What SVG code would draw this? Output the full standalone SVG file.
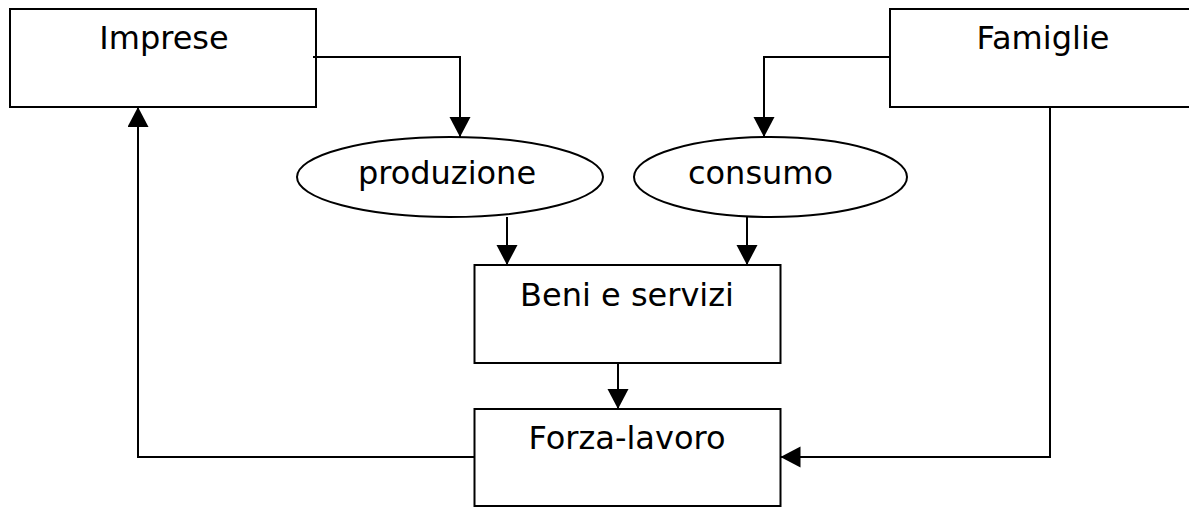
<svg xmlns="http://www.w3.org/2000/svg" width="1189" height="507" viewBox="0 0 1189 507">
<style>
.box{fill:#fff;stroke:#000;stroke-width:2}
.ell{fill:#fff;stroke:#000;stroke-width:2}
.lbl{font-family:"DejaVu Sans","Liberation Sans",sans-serif;font-size:32px;fill:#000;text-anchor:middle}
.con{fill:none;stroke:#000;stroke-width:2;marker-end:url(#arr)}
</style>
<defs>
<marker id="arr" markerUnits="userSpaceOnUse" markerWidth="21" markerHeight="22" refX="20" refY="10.5" orient="auto" viewBox="0 0 21 22">
<path d="M0,0 L20,10.5 L0,21 z" fill="#000"/>
</marker>
</defs>
<rect width="1189" height="507" fill="#fff"/>
<g id="imprese">
<rect class="box" x="10" y="9" width="306" height="98"/>
<text class="lbl" x="164" y="49">Imprese</text>
</g>
<g id="famiglie">
<rect class="box" x="890" y="9" width="310" height="98"/>
<text class="lbl" x="1043" y="49">Famiglie</text>
</g>
<g id="produzione">
<ellipse class="ell" cx="450" cy="177" rx="153" ry="40"/>
<text class="lbl" x="447" y="184">produzione</text>
</g>
<g id="consumo">
<ellipse class="ell" cx="770.5" cy="177" rx="136.5" ry="40"/>
<text class="lbl" x="760.5" y="184">consumo</text>
</g>
<g id="beni">
<rect class="box" x="474.5" y="265" width="306" height="98"/>
<text class="lbl" x="627" y="306">Beni e servizi</text>
</g>
<g id="forza">
<rect class="box" x="474.5" y="409" width="306" height="97"/>
<text class="lbl" x="627" y="449">Forza-lavoro</text>
</g>
<g id="connectors">
<path class="con" d="M313 57 H460 V137"/>
<path class="con" d="M890 57 H764 V137"/>
<path class="con" d="M507 217 V265"/>
<path class="con" d="M747 217 V265"/>
<path class="con" d="M618 363 V409"/>
<path class="con" d="M474.5 457 H138 V107"/>
<path class="con" d="M1050 107 V457 H780.5"/>
</g>
</svg>
